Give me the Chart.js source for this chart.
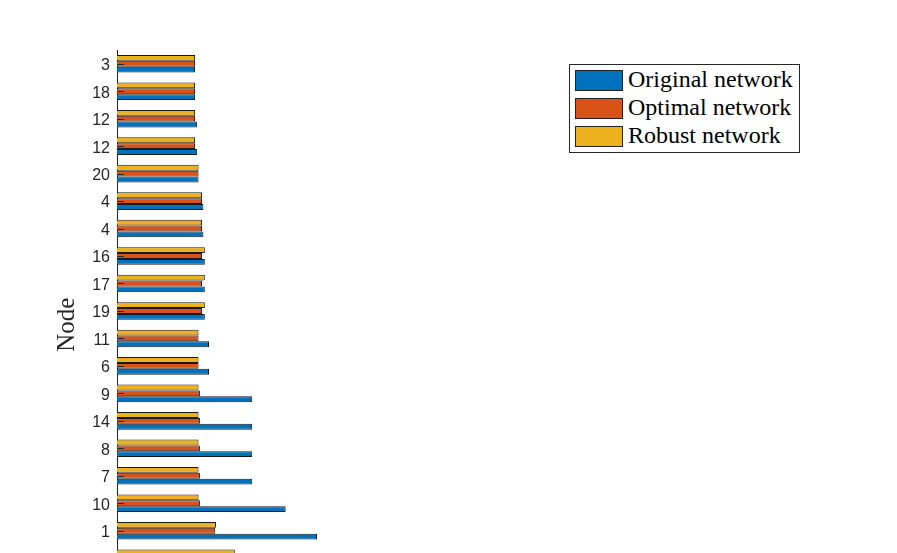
<!DOCTYPE html>
<html>
<head>
<meta charset="utf-8">
<script src="https://cdn.jsdelivr.net/npm/chart.js@4/dist/chart.umd.min.js"></script>
<style>
  html, body { margin: 0; padding: 0; background: #fff; overflow: hidden; width: 897px; height: 553px; }
  #wrap { position: absolute; left: 0; top: 0; width: 897px; height: 616px; }
  #legend { position: absolute; left: 569px; top: 64px; width: 229px; height: 87px; border: 1px solid #262626;
    background: #fff; font-family: "Liberation Serif", "Times New Roman", serif; font-size: 24px; color: #000; }
  #legend .row { position: absolute; left: 5px; height: 20px; line-height: 20px; white-space: nowrap; }
  #legend .sw { position: absolute; left: 0; top: 0; width: 46px; height: 19px; border: 1px solid #222; }
  #legend .tx { position: absolute; left: 53px; top: -1px; }
</style>
</head>
<body>
<div id="wrap"><canvas id="c"></canvas></div>
<div id="legend"></div>
<script>
/* Node ranking — grouped horizontal bars (bottom of the figure is cropped) */
const nodes = ["3","18","12","12","20","4","4","16","17","19","11","6","9","14","8","7","10","1","5","2"];

const seriesNames  = ["Original network", "Optimal network", "Robust network"];
const seriesColors = ["#0072BD", "#D95319", "#EDB120"];

const original = [0.112,0.112,0.115,0.115,0.117,0.124,0.124,0.126,0.126,0.126,0.132,0.132,0.194,0.194,0.194,0.194,0.242,0.287,0.330,0.400];
const optimal  = [0.112,0.112,0.112,0.112,0.117,0.122,0.122,0.122,0.122,0.122,0.117,0.117,0.119,0.119,0.119,0.119,0.119,0.141,0.165,0.190];
const robust   = [0.112,0.112,0.112,0.112,0.117,0.122,0.122,0.126,0.126,0.126,0.117,0.117,0.117,0.117,0.117,0.117,0.117,0.142,0.169,0.200];

const xMin = 0, xMax = 1;

// legend (same order as the reference box)
document.getElementById("legend").innerHTML = seriesNames.map((n, i) =>
  `<div class="row" style="top:${5 + i * 28}px"><div class="sw" style="background:${seriesColors[i]}"></div><div class="tx">${n}</div></div>`
).join("");

// MATLAB draws small inward ticks on the axis
const innerTicks = {
  id: "innerTicks",
  afterDatasetsDraw(chart) {
    const { ctx, chartArea, scales: { y } } = chart;
    ctx.save();
    ctx.strokeStyle = "#262626";
    ctx.lineWidth = 1;
    y.ticks.forEach((t, i) => {
      const py = Math.round(y.getPixelForTick(i)) + 0.5;
      ctx.beginPath();
      ctx.moveTo(chartArea.left, py);
      ctx.lineTo(chartArea.left + 7, py);
      ctx.stroke();
    });
    ctx.restore();
  }
};

// top bar in each group is Robust, so datasets go in reverse
const values = [original, optimal, robust];
const datasets = [2, 1, 0].map((i) => ({
  label: seriesNames[i],
  data: values[i],
  backgroundColor: seriesColors[i],
  borderColor: "#1a1a1a",
  borderWidth: 1,
  barPercentage: 1,
  categoryPercentage: 0.64
}));

new Chart(document.getElementById("c"), {
  type: "bar",
  data: { labels: nodes, datasets },
  plugins: [innerTicks],
  options: {
    indexAxis: "y",
    responsive: true,
    maintainAspectRatio: false,
    animation: false,
    layout: { padding: { top: 50, right: 83, bottom: 5, left: 0 } },
    plugins: { legend: { display: false }, tooltip: { enabled: false } },
    scales: {
      x: { type: "linear", min: xMin, max: xMax, display: false },
      y: {
        grid: { display: false, drawTicks: false },
        border: { display: true, color: "#262626", width: 1 },
        ticks: { padding: 7, labelOffset: 2, color: "#262626", font: { family: "Liberation Sans", size: 16 } },
        title: {
          display: true, text: "Node", color: "#262626",
          font: { family: "Liberation Serif", size: 25 },
          padding: { top: 52, bottom: 0 }
        },
        afterFit: (s) => { s.width = 117; }
      }
    }
  }
});
</script>
</body>
</html>
